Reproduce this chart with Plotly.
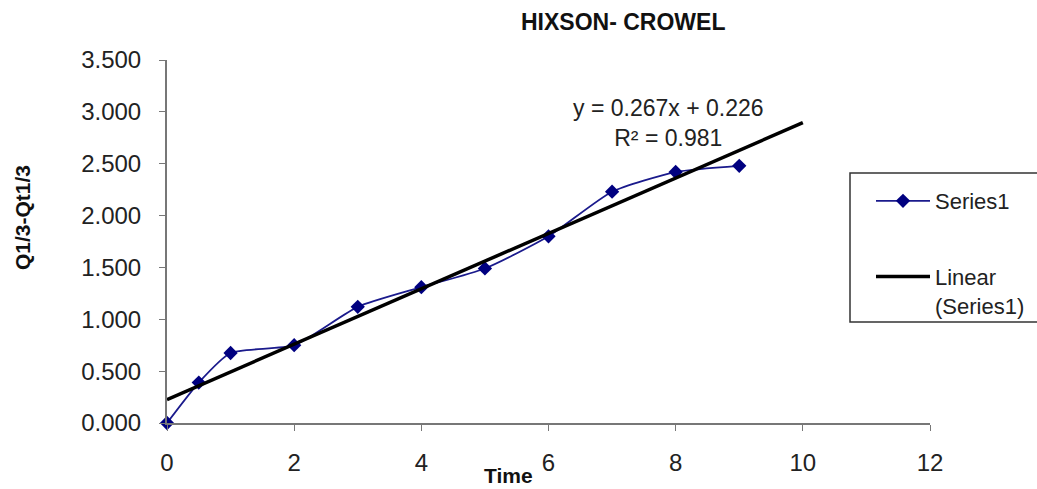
import plotly.graph_objects as go

time = [0, 0.5, 1, 2, 3, 4, 5, 6, 7, 8, 9]
q_values = [0.0, 0.39, 0.675, 0.75, 1.12, 1.31, 1.49, 1.80, 2.23, 2.42, 2.48]
trend_slope = 0.267
trend_intercept = 0.226
trend_r2 = 0.981
trend_x = [0, 10]
x_ticks = [0, 2, 4, 6, 8, 10, 12]
y_ticks = [0, 0.5, 1.0, 1.5, 2.0, 2.5, 3.0, 3.5]

trend_y = [trend_slope * x + trend_intercept for x in trend_x]

L, R, T, B = 167, 930, 60, 423
PW, PH = R - L, B - T


def px(x):
    return (x - L) / PW


def py(y):
    return (B - y) / PH


fig = go.Figure()
fig.add_trace(go.Scatter(
    x=time, y=q_values, mode="lines+markers", name="Series1",
    line=dict(color="#1a1a8c", width=1.8, shape="spline", smoothing=0.6),
    marker=dict(symbol="diamond", size=11, color="#000080"),
    legendgroup="a", cliponaxis=False,
))
fig.add_trace(go.Scatter(
    x=trend_x, y=trend_y, mode="lines", name="Linear<br>(Series1)",
    line=dict(color="black", width=3.5),
    legendgroup="b",
))

font = "Liberation Sans, Arial, sans-serif"
fig.update_layout(
    width=1037, height=489,
    margin=dict(l=L, r=1037 - R, t=T, b=489 - B, autoexpand=False),
    paper_bgcolor="white", plot_bgcolor="white",
    font=dict(family=font, color="#222"),
    showlegend=True,
    legend=dict(
        x=px(871), xanchor="left", y=py(180), yanchor="top",
        borderwidth=0, bgcolor="rgba(0,0,0,0)",
        font=dict(size=22, family=font, color="#222"),
        tracegroupgap=44, traceorder="grouped", itemwidth=54, valign="top",
    ),
    xaxis=dict(
        range=[0, 12], tickvals=x_ticks, ticks="outside", ticklen=6,
        tickcolor="#777", showline=True, linecolor="#777", linewidth=2,
        showgrid=False, zeroline=False, tickfont=dict(size=24),
        ticklabelstandoff=11, automargin=False,
    ),
    yaxis=dict(
        range=[0, 3.5], tickvals=y_ticks, tickformat=".3f", ticks="outside",
        ticklen=6, tickcolor="#777", showline=True, linecolor="#777",
        linewidth=2, showgrid=False, zeroline=False, tickfont=dict(size=24),
        ticklabelstandoff=13, automargin=False,
    ),
    shapes=[
        dict(type="rect", xref="paper", yref="paper",
             x0=px(850), x1=px(1060), y0=py(322), y1=py(173),
             line=dict(color="#333", width=1.5), fillcolor="rgba(0,0,0,0)",
             layer="below"),
    ],
    annotations=[
        dict(text="<b>HIXSON- CROWEL</b>", xref="paper", yref="paper",
             x=px(623), y=py(22), showarrow=False,
             font=dict(size=23, color="#111"), xanchor="center", yanchor="middle"),
        dict(text="<b>Q1/3-Qt1/3</b>", xref="paper", yref="paper",
             x=px(23), y=py(218), showarrow=False,
             textangle=-90, font=dict(size=21, color="#111"),
             xanchor="center", yanchor="middle"),
        dict(text="<b>Time</b>", xref="paper", yref="paper",
             x=px(508), y=py(475), showarrow=False,
             font=dict(size=21, color="#111"), xanchor="center", yanchor="middle"),
        dict(text=f"y = {trend_slope}x + {trend_intercept}<br>R² = {trend_r2}",
             xref="paper", yref="paper",
             x=px(668), y=py(123), showarrow=False,
             font=dict(size=23, color="#222"), xanchor="center", yanchor="middle",
             align="center"),
    ],
)

fig.write_html("out.html")
